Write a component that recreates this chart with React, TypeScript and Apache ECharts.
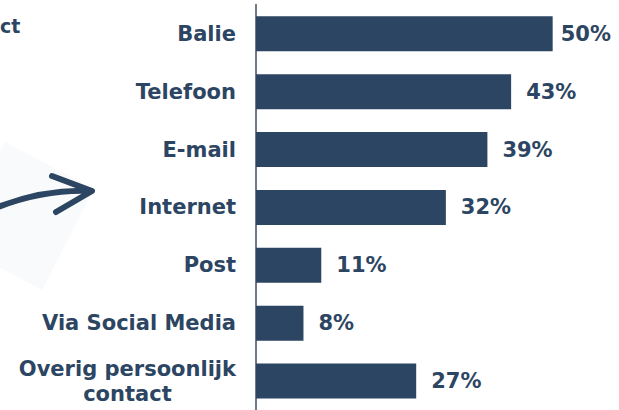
import React, { useEffect, useRef } from "react";
import * as echarts from "echarts";

const categories = [
  "Balie",
  "Telefoon",
  "E-mail",
  "Internet",
  "Post",
  "Via Social Media",
  "Overig persoonlijk\ncontact",
];
const values = [50, 43, 39, 32, 11, 8, 27];
const valueSuffix = "%";
const cornerText = "ct";

const NAVY = "#2c4562";
const FONT = "'DejaVu Sans', Verdana, sans-serif";

export default function App() {
  const ref = useRef<HTMLDivElement>(null);

  useEffect(() => {
    document.body.style.margin = "0";
    if (!ref.current) return;
    const chart = echarts.init(ref.current, undefined, { renderer: "svg" });
    chart.setOption({
      animation: false,
      backgroundColor: "#ffffff",
      grid: { left: 256, top: 4.8, width: 356, height: 408.3, containLabel: false },
      xAxis: { type: "value", min: 0, max: 60, show: false },
      yAxis: {
        type: "category",
        inverse: true,
        data: categories,
        axisLine: { show: true, lineStyle: { color: "#6d7a8c", width: 2 } },
        axisTick: { show: false },
        splitLine: { show: false },
        axisLabel: {
          margin: 20,
          fontSize: 21,
          fontWeight: "bold",
          fontFamily: FONT,
          color: NAVY,
          lineHeight: 25,
          formatter: (v: string) =>
            v.includes("\n")
              ? v
                  .split("\n")
                  .map((l) => `{c|${l}}`)
                  .join("\n")
              : v,
          rich: {
            c: {
              align: "center",
              fontSize: 21,
              fontWeight: "bold",
              fontFamily: FONT,
              color: NAVY,
              lineHeight: 25,
            },
          },
        },
      },
      series: [
        {
          type: "bar",
          barWidth: 35,
          itemStyle: { color: NAVY },
          data: values.map((v, i) =>
            i === 0 ? { value: v, label: { distance: 8 } } : v
          ),
          label: {
            show: true,
            position: "right",
            distance: 15,
            formatter: (p: any) => `${p.value}${valueSuffix}`,
            fontSize: 21,
            fontWeight: "bold",
            fontFamily: FONT,
            color: NAVY,
          },
        },
      ],
      graphic: [
        {
          type: "polygon",
          z: 0,
          shape: {
            points: [
              [5, 142],
              [94, 189],
              [42, 290],
              [-47, 243],
            ],
          },
          style: { fill: "#f9fafb" },
        },
        {
          type: "bezierCurve",
          z: 1,
          shape: { x1: -2, y1: 207, cpx1: 45, cpy1: 189, x2: 91, y2: 191 },
          style: { stroke: NAVY, lineWidth: 6, fill: null, lineCap: "round" },
        },
        {
          type: "polyline",
          z: 1,
          shape: {
            points: [
              [52, 176],
              [92, 191],
              [56, 212],
            ],
          },
          style: {
            stroke: NAVY,
            lineWidth: 6,
            fill: null,
            lineCap: "round",
            lineJoin: "round",
          },
        },
        {
          type: "text",
          z: 1,
          x: 0,
          y: 26,
          style: {
            text: cornerText,
            fontSize: 19,
            fontWeight: "bold",
            fontFamily: FONT,
            fill: NAVY,
            align: "left",
            verticalAlign: "middle",
          },
        },
      ],
    });
    return () => chart.dispose();
  }, []);

  return <div ref={ref} style={{ width: 619, height: 410 }} />;
}
